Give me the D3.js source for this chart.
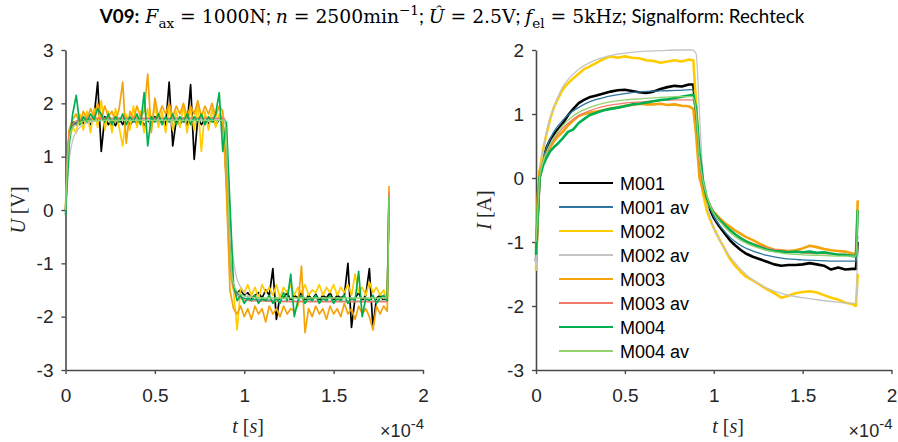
<!DOCTYPE html>
<html><head><meta charset="utf-8">
<script src="https://cdn.jsdelivr.net/npm/d3@7"></script>
<style>body{margin:0;background:#fff} svg{display:block}</style>
</head><body><svg id="c" width="898" height="442"></svg>
<script>
// ---------- data ----------
const seriesNames = ["M001","M001 av","M002","M002 av","M003","M003 av","M004","M004 av"];
const seriesColors = ["#000000","#2e75a0","#ffcc00","#c4c4c4","#f5a30a","#f4796b","#00b050","#92d36e"];
const xTicks = [0,0.5,1,1.5,2];
const uTicks = [-3,-2,-1,0,1,2,3];
const iTicks = [-3,-2,-1,0,1,2];

// time grid (x1e-4 s) for the sampled noisy U traces: 0..1.80 step 0.02, then 1.81
const tU = d3.range(0, 91).map(i => +(i*0.02).toFixed(2)).concat([1.81]);
const U_M001 = [0.0,1.45,1.65,1.6,1.7,1.62,1.72,1.6,1.75,2.4,
 1.1,1.75,1.6,1.7,1.58,1.72,1.6,1.75,1.58,1.7,
 1.62,1.72,1.58,1.7,1.6,1.75,1.62,1.7,1.58,2.4,
 1.2,1.7,1.6,1.72,1.58,2.35,0.95,1.72,1.6,1.7,
 1.62,1.72,1.6,1.7,1.68,0.6,-1.0,-1.45,-1.55,-1.5,
 -1.6,-1.55,-1.65,-1.6,-1.55,-1.65,-1.5,-1.6,-1.1,-2.05,
 -1.6,-1.65,-1.55,-1.7,-1.6,-1.65,-1.55,-1.7,-1.6,-1.68,
 -1.58,-1.7,-1.6,-1.65,-1.55,-1.7,-1.6,-1.65,-1.6,-1.0,
 -2.2,-1.65,-1.55,-1.7,-1.6,-1.1,-2.2,-1.65,-1.6,-1.7,
 -1.65,0.3];
const U_M002 = [0.0,1.3,1.55,1.45,1.8,1.5,1.85,1.45,1.9,1.55,
 2.05,1.5,1.85,1.45,1.9,1.55,1.2,1.8,1.5,1.95,
 1.55,1.85,1.45,1.9,1.5,2.0,1.55,1.85,1.45,1.95,
 1.5,1.85,1.55,1.95,1.45,1.9,1.5,2.0,1.1,1.85,
 1.5,1.9,1.55,1.8,1.7,0.5,-1.2,-1.5,-2.25,-1.45,
 -1.55,-1.4,-1.6,-1.45,-1.65,-1.4,-1.55,-1.45,-1.6,-1.4,
 -1.65,-1.45,-1.55,-1.4,-1.6,-1.45,-1.55,-1.4,-1.6,-1.5,
 -1.55,-1.4,-1.6,-1.45,-1.55,-1.4,-1.6,-1.45,-1.55,-1.4,
 -1.6,-1.2,-1.55,-1.45,-1.6,-1.35,-1.55,-1.45,-1.6,-1.5,
 -1.7,0.3];
const U_M003 = [0.1,1.5,1.7,1.8,1.6,1.85,1.7,1.9,1.75,2.0,
 1.7,1.95,1.75,1.85,1.65,1.9,2.4,1.25,1.85,1.7,
 1.95,1.75,1.85,2.55,1.45,2.1,1.75,1.95,1.8,2.0,
 1.75,1.95,1.8,2.0,1.75,1.95,1.8,2.05,1.75,1.95,
 1.8,2.0,1.75,1.95,1.85,0.4,-1.5,-1.85,-1.95,-1.8,
 -2.0,-1.85,-2.05,-1.8,-1.95,-1.85,-2.1,-1.8,-1.95,-1.85,
 -2.0,-1.8,-1.95,-1.85,-1.9,-1.8,-1.05,-2.3,-1.85,-2.0,
 -1.8,-1.95,-1.85,-2.05,-1.8,-1.95,-1.85,-2.0,-1.75,-1.95,
 -1.85,-2.05,-1.8,-1.95,-1.85,-2.0,-2.25,-1.8,-1.95,-1.8,
 -1.9,0.45];
const U_M004 = [-0.1,1.2,1.8,2.15,1.6,1.75,1.65,1.8,1.7,1.9,
 1.8,1.65,1.8,1.6,1.75,1.65,1.8,1.6,1.75,1.65,
 1.8,1.6,2.2,1.2,1.75,1.65,1.8,1.6,1.75,1.65,
 1.8,1.6,1.75,1.65,1.8,1.6,1.75,1.65,1.8,1.6,
 1.75,1.65,1.8,2.2,1.1,1.65,0.1,-1.4,-1.7,-1.6,
 -1.75,-1.65,-1.7,-1.6,-1.75,-1.65,-1.7,-1.6,-1.75,-1.65,
 -1.75,-1.55,-1.7,-1.2,-2.0,-1.7,-1.6,-1.75,-1.65,-1.7,
 -1.6,-1.75,-1.65,-1.7,-1.6,-1.75,-1.65,-1.7,-1.6,-1.75,
 -1.65,-1.7,-1.15,-2.0,-1.65,-1.7,-1.6,-1.75,-1.65,-1.6,
 -1.7,0.25];

// time grid for the averaged U traces
const tUav = [0,0.01,0.02,0.03,0.05,0.08,0.12,0.2,0.4,0.6,0.8,0.89,0.90,0.91,0.92,0.93,0.95,0.98,1.02,1.1,1.3,1.5,1.7,1.80,1.81];
const U_M001av = [0,0.9,1.35,1.5,1.62,1.67,1.69,1.7,1.7,1.7,1.7,1.7,1.3,0.2,-0.7,-1.2,-1.5,-1.62,-1.67,-1.69,-1.7,-1.7,-1.7,-1.7,0.3];
const U_M002av = [0,0.5,0.9,1.15,1.4,1.55,1.63,1.68,1.7,1.7,1.7,1.7,1.55,0.8,0.0,-0.6,-1.15,-1.45,-1.6,-1.67,-1.7,-1.7,-1.7,-1.7,0.1];
const U_M003av = [0,0.95,1.4,1.55,1.65,1.7,1.72,1.72,1.72,1.72,1.72,1.72,1.3,0.1,-0.8,-1.3,-1.55,-1.65,-1.7,-1.71,-1.72,-1.72,-1.72,-1.72,0.35];
const U_M004av = [0,0.85,1.3,1.47,1.58,1.64,1.67,1.68,1.68,1.68,1.68,1.68,1.3,0.2,-0.7,-1.2,-1.48,-1.58,-1.63,-1.65,-1.65,-1.65,-1.65,-1.65,0.25];

// time grid for the measured current traces
const tI = [0,0.01,0.02,0.04,0.06,0.08,0.10,0.12,0.15,0.18,0.21,0.24,0.27,0.30,0.34,0.38,0.42,0.46,0.50,0.54,0.58,0.62,0.66,0.70,0.74,0.78,0.82,0.86,0.885,0.90,0.92,0.94,0.96,0.98,1.00,1.03,1.06,1.09,1.12,1.15,1.18,1.22,1.26,1.30,1.34,1.38,1.42,1.46,1.50,1.54,1.58,1.62,1.66,1.70,1.74,1.78,1.80,1.81];
const I_M001 = [-1.3,-0.6,0.0,0.3,0.48,0.6,0.68,0.75,0.85,0.98,1.08,1.17,1.22,1.26,1.29,1.32,1.35,1.37,1.38,1.36,1.34,1.33,1.35,1.39,1.42,1.44,1.43,1.46,1.46,1.0,0.2,-0.15,-0.35,-0.5,-0.62,-0.75,-0.86,-0.97,-1.05,-1.12,-1.18,-1.23,-1.27,-1.31,-1.35,-1.37,-1.36,-1.36,-1.35,-1.33,-1.35,-1.37,-1.43,-1.4,-1.43,-1.42,-1.42,-1.0];
const I_M002 = [-1.45,-0.5,0.1,0.45,0.7,0.92,1.1,1.22,1.38,1.48,1.56,1.63,1.7,1.74,1.8,1.86,1.9,1.88,1.9,1.88,1.87,1.84,1.83,1.8,1.82,1.84,1.82,1.85,1.84,1.2,0.2,-0.25,-0.5,-0.65,-0.78,-0.95,-1.1,-1.26,-1.37,-1.46,-1.54,-1.6,-1.67,-1.74,-1.8,-1.87,-1.84,-1.8,-1.78,-1.77,-1.79,-1.83,-1.87,-1.9,-1.95,-1.97,-2.0,-1.5];
const I_M003 = [-1.1,-0.3,0.1,0.25,0.38,0.48,0.57,0.64,0.72,0.82,0.9,0.97,1.0,1.02,1.04,1.06,1.09,1.1,1.13,1.14,1.16,1.15,1.15,1.16,1.14,1.15,1.13,1.12,1.08,0.7,0.0,-0.2,-0.35,-0.45,-0.53,-0.62,-0.7,-0.76,-0.82,-0.87,-0.92,-0.97,-1.03,-1.08,-1.12,-1.13,-1.14,-1.13,-1.1,-1.06,-1.08,-1.11,-1.13,-1.14,-1.15,-1.18,-1.2,-0.35];
const I_M004 = [-1.2,-0.5,0.0,0.2,0.32,0.42,0.48,0.53,0.62,0.72,0.76,0.86,0.92,0.98,1.02,1.06,1.08,1.1,1.12,1.15,1.16,1.18,1.2,1.22,1.23,1.25,1.27,1.29,1.3,1.1,0.4,-0.05,-0.3,-0.45,-0.55,-0.65,-0.73,-0.81,-0.88,-0.94,-0.99,-1.04,-1.08,-1.12,-1.14,-1.15,-1.16,-1.15,-1.16,-1.15,-1.17,-1.16,-1.18,-1.2,-1.2,-1.22,-1.22,-0.5];

// time grid for the averaged current traces
const tIav = [0,0.01,0.02,0.04,0.07,0.1,0.15,0.2,0.25,0.3,0.4,0.5,0.6,0.7,0.8,0.88,0.9,0.92,0.94,0.97,1.0,1.05,1.1,1.15,1.2,1.3,1.4,1.5,1.6,1.7,1.8,1.81];
const I_M001av = [-1.0,-0.5,0.0,0.3,0.55,0.72,0.9,1.03,1.12,1.19,1.27,1.32,1.35,1.36,1.37,1.38,1.2,0.3,-0.1,-0.4,-0.6,-0.8,-0.95,-1.05,-1.12,-1.21,-1.26,-1.28,-1.29,-1.3,-1.3,-0.9];
const I_M002av = [-1.45,-0.7,0.0,0.42,0.85,1.1,1.42,1.6,1.72,1.8,1.9,1.95,1.98,1.99,2.0,2.0,1.95,1.0,0.0,-0.5,-0.78,-1.05,-1.26,-1.42,-1.55,-1.72,-1.82,-1.87,-1.91,-1.94,-1.96,-1.0];
const I_M003av = [-1.0,-0.5,0.0,0.25,0.45,0.6,0.78,0.9,0.99,1.05,1.13,1.17,1.19,1.21,1.22,1.22,1.0,0.2,-0.1,-0.35,-0.52,-0.7,-0.83,-0.93,-1.0,-1.09,-1.14,-1.17,-1.18,-1.19,-1.2,-0.5];
const I_M004av = [-1.0,-0.5,0.0,0.25,0.47,0.63,0.82,0.95,1.04,1.1,1.18,1.22,1.24,1.26,1.27,1.27,1.05,0.3,-0.05,-0.35,-0.55,-0.73,-0.87,-0.97,-1.04,-1.13,-1.18,-1.2,-1.21,-1.22,-1.22,-0.5];

// ---------- drawing ----------
const svg = d3.select("#c");
const axisColor = "#4a4a4a", textColor = "#262626";
const SANS = "'Liberation Sans', Arial, sans-serif";
const SERIF = "'Liberation Serif', 'DejaVu Serif', serif";

function panel(opt) {
  const x = d3.scaleLinear().domain([0, 2]).range(opt.xr);
  const y = d3.scaleLinear().domain(opt.yd).range([370, 50]);
  const g = svg.append("g");
  const fmt = d => String(d);
  const ax = g.append("g").attr("transform", `translate(0,370)`)
    .call(d3.axisBottom(x).tickValues(xTicks).tickFormat(fmt).tickSize(4).tickSizeOuter(0).tickPadding(15));
  const ay = g.append("g").attr("transform", `translate(${opt.xr[0]},0)`)
    .call(d3.axisLeft(y).tickValues(opt.yt).tickFormat(fmt).tickSize(4).tickSizeOuter(0).tickPadding(8));
  [ax, ay].forEach(a => {
    a.attr("font-family", null).attr("font-size", null);
    a.select(".domain").attr("stroke", axisColor).attr("stroke-width", 1.6);
    a.selectAll(".tick line").attr("stroke", axisColor).attr("stroke-width", 1.4);
    a.selectAll(".tick text").attr("fill", textColor)
      .attr("font-family", SANS).attr("font-size", 19);
  });
  const lines = g.append("g");
  opt.series.forEach((s, k) => {
    const line = d3.line().x((d, i) => x(s.t[i])).y(d => y(d))
      .curve(s.av ? d3.curveMonotoneX : d3.curveLinear);
    lines.append("path").datum(s.v).attr("d", line).attr("fill", "none")
      .attr("stroke", seriesColors[k]).attr("stroke-width", s.av ? 1.3 : opt.w)
      .attr("stroke-linejoin", "round");
  });
  // axis labels
  const lab = g.append("text").attr("transform", `translate(${opt.ylx},210) rotate(-90)`)
    .attr("text-anchor", "middle").attr("fill", textColor)
    .attr("font-family", SERIF).attr("font-size", 20);
  lab.append("tspan").attr("font-style", "italic").text(opt.yl[0]);
  lab.append("tspan").text(" " + opt.yl[1]);
  const xl = g.append("text").attr("x", opt.xlx).attr("y", 433).attr("text-anchor", "middle")
    .attr("fill", textColor).attr("font-family", SERIF).attr("font-size", 20);
  xl.append("tspan").attr("font-style", "italic").text("t");
  xl.append("tspan").text(" [");
  xl.append("tspan").attr("font-style", "italic").text("s");
  xl.append("tspan").text("]");
  const ex = g.append("text").attr("x", opt.xr[1] + 1).attr("y", 437).attr("text-anchor", "end")
    .attr("fill", textColor).attr("font-family", SANS).attr("font-size", 18);
  ex.append("tspan").text("×10");
  ex.append("tspan").attr("dy", -8).attr("font-size", 15).text("-4");
  return {x, y, g};
}

panel({
  xr: [65.5, 423], yd: [-3, 3], yt: uTicks, w: 1.7, ylx: 25, xlx: 248, yl: ["U", "[V]"],
  series: [
    {t: tU, v: U_M001}, {t: tUav, v: U_M001av, av: true},
    {t: tU, v: U_M002}, {t: tUav, v: U_M002av, av: true},
    {t: tU, v: U_M003}, {t: tUav, v: U_M003av, av: true},
    {t: tU, v: U_M004}, {t: tUav, v: U_M004av, av: true}
  ]
});
panel({
  xr: [536, 891.5], yd: [-3, 2], yt: iTicks, w: 2.6, ylx: 491, xlx: 728, yl: ["I", "[A]"],
  series: [
    {t: tI, v: I_M001}, {t: tIav, v: I_M001av, av: true},
    {t: tI, v: I_M002}, {t: tIav, v: I_M002av, av: true},
    {t: tI, v: I_M003}, {t: tIav, v: I_M003av, av: true},
    {t: tI, v: I_M004}, {t: tIav, v: I_M004av, av: true}
  ]
});

// legend
const leg = svg.append("g");
seriesNames.forEach((n, k) => {
  const yy = 183 + k * 24;
  leg.append("line").attr("x1", 559).attr("x2", 613).attr("y1", yy).attr("y2", yy)
    .attr("stroke", seriesColors[k]).attr("stroke-width", 2);
  leg.append("text").attr("x", 620).attr("y", yy + 6.5).text(n).attr("fill", "#000")
    .attr("font-family", SANS).attr("font-size", 18);
});

// title (fitted to the reference width)
const TSANS = "Lato, 'Open Sans', sans-serif", TSERIF = "'DejaVu Serif', 'Liberation Serif', serif";
const titleParts = [
  ["V09:", TSANS, {b: true}],
  [" F", TSERIF, {i: true}],
  ["ax", TSERIF, {sub: true}],
  [" = 1000N", TSERIF, {}],
  ["; ", TSANS, {}],
  ["n", TSERIF, {i: true}],
  [" = 2500min", TSERIF, {}],
  ["−1", TSERIF, {sup: true}],
  ["; ", TSANS, {}],
  ["Û", TSERIF, {i: true}],
  [" = 2.5V", TSERIF, {}],
  ["; ", TSANS, {}],
  ["f", TSERIF, {i: true}],
  ["el", TSERIF, {sub: true}],
  [" = 5kHz", TSERIF, {}],
  ["; Signalform: Rechteck", TSANS, {}]
];
function buildTitle(fs) {
  svg.select("#title").remove();
  const t = svg.append("text").attr("id", "title").attr("x", 452).attr("y", 23)
    .attr("text-anchor", "middle").attr("fill", "#000").attr("font-size", fs);
  let shift = 0;
  titleParts.forEach(([txt, fam, o]) => {
    const target = o.sub ? 0.25 * fs : o.sup ? -0.42 * fs : 0;
    const s = t.append("tspan").attr("font-family", fam).text(txt);
    if (o.b) s.attr("font-weight", "bold");
    if (o.i) s.attr("font-style", "italic");
    if (o.sub || o.sup) s.attr("font-size", 0.72 * fs);
    if (target !== shift) { s.attr("dy", target - shift); shift = target; }
  });
  return t;
}
let tt = buildTitle(17);
const w0 = tt.node().getComputedTextLength();
buildTitle(17 * 705 / w0);
</script>
</body></html>
